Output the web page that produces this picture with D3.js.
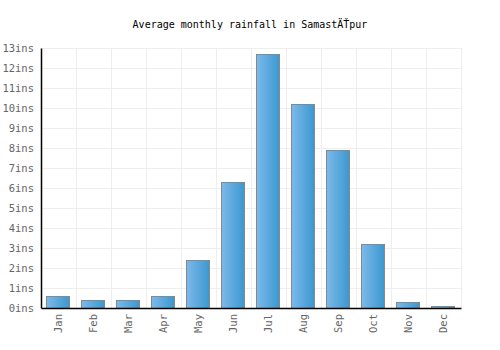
<!DOCTYPE html>
<html><head><meta charset="utf-8">
<script src="https://cdn.jsdelivr.net/npm/d3@7"></script>
<style>body{margin:0;background:#fff}svg{display:block}text{font-family:"DejaVu Sans Mono",monospace}</style>
</head><body>
<svg id="c" width="500" height="350"></svg>
<script>
const months = ["Jan","Feb","Mar","Apr","May","Jun","Jul","Aug","Sep","Oct","Nov","Dec"];
const rainfall = [0.6,0.4,0.4,0.6,2.4,6.3,12.7,10.2,7.9,3.2,0.3,0.1];
const yTicks = [0,1,2,3,4,5,6,7,8,9,10,11,12,13];
const title = "Average monthly rainfall in SamastÄŤpur";

const svg = d3.select("#c");
const m = {l:41, r:461, t:48, b:308};
const x = d3.scaleBand().domain(months).range([m.l, m.r]).paddingInner(0.314).paddingOuter(0.157);
const xg = d3.scaleBand().domain(months).range([m.l, m.r]);
const y = d3.scaleLinear().domain([0,13]).range([m.b, m.t]);

const defs = svg.append("defs");
const g = defs.append("linearGradient").attr("id","bg").attr("x1","0").attr("x2","1").attr("y1","0").attr("y2","0");
g.append("stop").attr("offset","0").attr("stop-color","#7db9ea");
g.append("stop").attr("offset","1").attr("stop-color","#3a98d0");

svg.append("text").attr("x",250).attr("y",28).attr("text-anchor","middle").attr("font-size",10).attr("fill","#000").text(title);

// grid
svg.append("g").selectAll("line").data(yTicks).join("line")
  .attr("x1",m.l).attr("x2",m.r).attr("y1",d=>Math.round(y(d))+0.5).attr("y2",d=>Math.round(y(d))+0.5)
  .attr("stroke","#eeeeee");
svg.append("g").selectAll("line").data(months).join("line")
  .attr("x1",d=>Math.round(xg(d)+xg.bandwidth())+0.5).attr("x2",d=>Math.round(xg(d)+xg.bandwidth())+0.5)
  .attr("y1",m.t).attr("y2",m.b).attr("stroke","#eeeeee");

// bars
svg.append("g").selectAll("rect").data(rainfall).join("rect")
  .attr("x",(d,i)=>Math.round(x(months[i]))+0.5).attr("width",Math.round(x.bandwidth())-1)
  .attr("y",d=>Math.round(y(d))+0.5).attr("height",d=>m.b-Math.round(y(d)))
  .attr("fill","url(#bg)").attr("stroke","#888888");

// axes
const ya = svg.append("g").attr("transform",`translate(${m.l},0)`)
  .call(d3.axisLeft(y).tickValues(yTicks).tickSize(0).tickPadding(7).tickFormat(d=>d+"ins"));
ya.select(".domain").attr("stroke","#000").attr("stroke-width",1.5);
ya.selectAll("text").attr("font-size",10.5).attr("fill","#666").attr("font-family","DejaVu Sans Mono");

const xa = svg.append("g").attr("transform",`translate(0,${m.b})`)
  .call(d3.axisBottom(xg).tickSize(0).tickPadding(0));
xa.select(".domain").attr("stroke","#000").attr("stroke-width",1.5);
xa.selectAll("text").attr("font-size",10.5).attr("fill","#666").attr("font-family","DejaVu Sans Mono")
  .attr("text-anchor","end").attr("dy","0.35em").attr("transform","translate(0,6) rotate(-90)").attr("y",0).attr("x",0);
</script>
</body></html>
